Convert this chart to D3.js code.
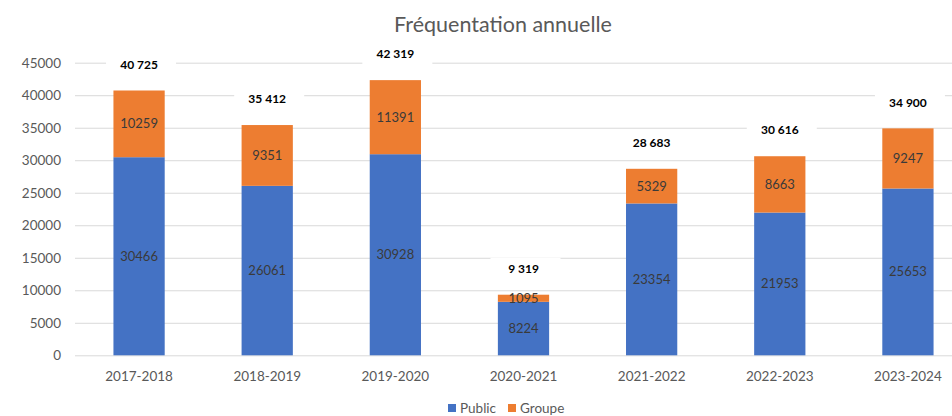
<!DOCTYPE html>
<html>
<head>
<meta charset="utf-8">
<script src="https://cdn.jsdelivr.net/npm/d3@7"></script>
<style>
  body { margin: 0; background: #fff; }
  svg { display: block; font-family: Lato, "Open Sans", sans-serif; }
</style>
</head>
<body>
<svg id="chart"></svg>
<script>
// data
var seasons = ["2017-2018", "2018-2019", "2019-2020", "2020-2021", "2021-2022", "2022-2023", "2023-2024"];
var publicVals = [30466, 26061, 30928, 8224, 23354, 21953, 25653];
var groupeVals = [10259, 9351, 11391, 1095, 5329, 8663, 9247];
var totalLabels = ["40 725", "35 412", "42 319", "9 319", "28 683", "30 616", "34 900"];
var yTicks = [0, 5000, 10000, 15000, 20000, 25000, 30000, 35000, 40000, 45000];
var seriesNames = ["Public", "Groupe"];
var colors = ["#4472C4", "#ED7D31"];

var width = 952, height = 416;
var svg = d3.select("#chart").attr("width", width).attr("height", height);

var x = d3.scaleBand().domain(seasons).range([75, 972]).paddingInner(0.6).paddingOuter(0.3);
var y = d3.scaleLinear().domain([0, 45000]).range([355.3, 62.7]);

// title
svg.append("text")
    .attr("x", 503).attr("y", 32)
    .attr("text-anchor", "middle")
    .attr("font-size", "21.5px")
    .attr("fill", "#595959")
    .text("Fréquentation annuelle");

// grid + y axis
var yAxis = svg.append("g")
    .attr("transform", "translate(75,0)")
    .call(d3.axisLeft(y).tickValues(yTicks).tickSize(-(width - 75)).tickFormat(d3.format("d")).tickPadding(14));
yAxis.select(".domain").remove();
yAxis.selectAll("line").attr("stroke", "#d9d9d9").attr("stroke-width", 1);
yAxis.selectAll("text").attr("font-size", "13.5px").attr("fill", "#595959").attr("font-family", "Lato, sans-serif");

// x axis
var xAxis = svg.append("g")
    .attr("transform", "translate(0,355.3)")
    .call(d3.axisBottom(x).tickSize(0).tickPadding(16));
xAxis.select(".domain").remove();
xAxis.selectAll("text").attr("font-size", "13.5px").attr("fill", "#595959").attr("font-family", "Lato, sans-serif");

// stacked bars
var rows = seasons.map(function (s, i) {
    return { season: s, Public: publicVals[i], Groupe: groupeVals[i] };
});
var stacked = d3.stack().keys(seriesNames)(rows);

var layers = svg.append("g").selectAll("g")
    .data(stacked).enter().append("g")
    .attr("fill", function (d, i) { return colors[i]; });

layers.selectAll("rect")
    .data(function (d) { return d; })
    .enter().append("rect")
    .attr("x", function (d) { return x(d.data.season); })
    .attr("width", x.bandwidth())
    .attr("y", function (d) { return y(d[1]); })
    .attr("height", function (d) { return y(d[0]) - y(d[1]); });

layers.selectAll("text")
    .data(function (d) { return d; })
    .enter().append("text")
    .attr("x", function (d) { return x(d.data.season) + x.bandwidth() / 2; })
    .attr("y", function (d) { return (y(d[0]) + y(d[1])) / 2; })
    .attr("dy", "0.35em")
    .attr("text-anchor", "middle")
    .attr("font-size", "13px")
    .attr("fill", "#3a3a3a")
    .text(function (d) { return d[1] - d[0]; });

// totals with white box
var totals = svg.append("g").selectAll("g")
    .data(rows).enter().append("g")
    .attr("transform", function (d) {
        return "translate(" + (x(d.season) + x.bandwidth() / 2) + "," + (y(d.Public + d.Groupe) - 26) + ")";
    });
totals.append("rect")
    .attr("x", -33).attr("y", -11).attr("width", 70).attr("height", 22)
    .attr("fill", "#fff");
totals.append("text")
    .attr("text-anchor", "middle")
    .attr("dy", "0.35em")
    .attr("font-size", "12px")
    .attr("font-weight", "bold")
    .attr("fill", "#000")
    .text(function (d, i) { return totalLabels[i]; });

// legend
var legend = svg.append("g").attr("transform", "translate(448,408)");
var item = legend.selectAll("g")
    .data(seriesNames).enter().append("g")
    .attr("transform", function (d, i) { return "translate(" + (i * 60) + ",0)"; });
item.append("rect")
    .attr("x", 0).attr("y", -4).attr("width", 8).attr("height", 8)
    .attr("fill", function (d, i) { return colors[i]; });
item.append("text")
    .attr("x", 12).attr("dy", "0.35em")
    .attr("font-size", "13.5px")
    .attr("fill", "#595959")
    .text(function (d) { return d; });
</script>
</body>
</html>
